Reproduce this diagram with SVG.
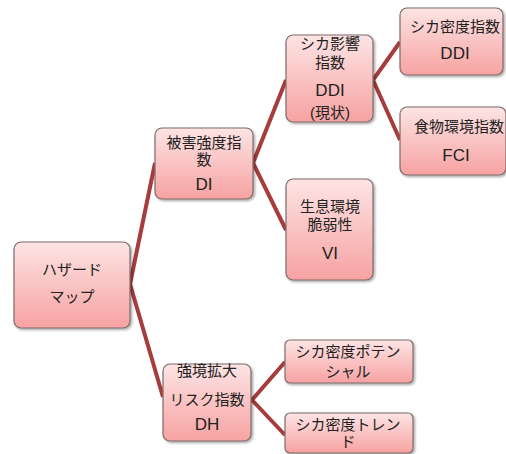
<svg xmlns="http://www.w3.org/2000/svg" width="506" height="454" viewBox="0 0 506 454">
<defs>
<linearGradient id="g" x1="0" y1="0" x2="0" y2="1">
<stop offset="0" stop-color="#fde4e4"/>
<stop offset="1" stop-color="#f7a2a2"/>
</linearGradient>
<filter id="sh" x="-10%" y="-10%" width="130%" height="130%">
<feDropShadow dx="1.5" dy="1.5" stdDeviation="1" flood-color="#000" flood-opacity="0.35"/>
</filter>
</defs>
<style>
.box{fill:url(#g);stroke:#7f6a6a;stroke-width:1.2;filter:url(#sh)}
.t{font-family:"Liberation Sans","Noto Sans CJK JP",sans-serif;font-size:15px;fill:#222;text-anchor:middle}
.l{font-size:17px}
.c{stroke:#a63c3c;stroke-width:4;fill:none;stroke-linejoin:miter}
</style>
<g id="connectors">
<polyline class="c" points="155,163 130,284 163,397"/>
<polyline class="c" points="286,80 253,163 286,230"/>
<polyline class="c" points="400,42 373,80 400,140"/>
<polyline class="c" points="285,362 252,400 285,435"/>
</g>
<g id="hazard">
<rect class="box" x="14" y="242" width="116" height="86" rx="7"/>
<text class="t" x="72" y="275">ハザード</text>
<text class="t" x="72" y="302">マップ</text>
</g>
<g id="di">
<rect class="box" x="155" y="128" width="98" height="71" rx="7"/>
<text class="t" x="204" y="148">被害強度指</text>
<text class="t" x="204" y="165">数</text>
<text class="t l" x="204" y="190">DI</text>
</g>
<g id="dh">
<rect class="box" x="163" y="364" width="88" height="77" rx="7"/>
<text class="t" x="207" y="376">強境拡大</text>
<text class="t" x="207" y="405">リスク指数</text>
<text class="t l" x="207" y="430">DH</text>
</g>
<g id="ddi">
<rect class="box" x="286" y="35" width="87" height="87" rx="7"/>
<text class="t" x="330" y="49">シカ影響</text>
<text class="t" x="330" y="68">指数</text>
<text class="t l" x="330" y="96">DDI</text>
<text class="t" x="330" y="118">(現状)</text>
</g>
<g id="vi">
<rect class="box" x="286" y="179" width="87" height="101" rx="7"/>
<text class="t" x="330" y="212">生息環境</text>
<text class="t" x="330" y="230">脆弱性</text>
<text class="t l" x="330" y="259">VI</text>
</g>
<g id="density">
<rect class="box" x="400" y="8" width="103" height="67" rx="7"/>
<text class="t" x="455" y="32">シカ密度指数</text>
<text class="t l" x="455" y="59">DDI</text>
</g>
<g id="fci">
<rect class="box" x="400" y="107" width="106" height="68" rx="7"/>
<text class="t" x="459" y="132">食物環境指数</text>
<text class="t l" x="456" y="161">FCI</text>
</g>
<g id="potential">
<rect class="box" x="285" y="340" width="128" height="43" rx="5"/>
<text class="t" x="348" y="357">シカ密度ポテン</text>
<text class="t" x="348" y="377">シャル</text>
</g>
<g id="trend">
<rect class="box" x="285" y="413" width="128" height="40" rx="5"/>
<text class="t" x="348" y="430">シカ密度トレン</text>
<text class="t" x="348" y="447">ド</text>
</g>
</svg>
